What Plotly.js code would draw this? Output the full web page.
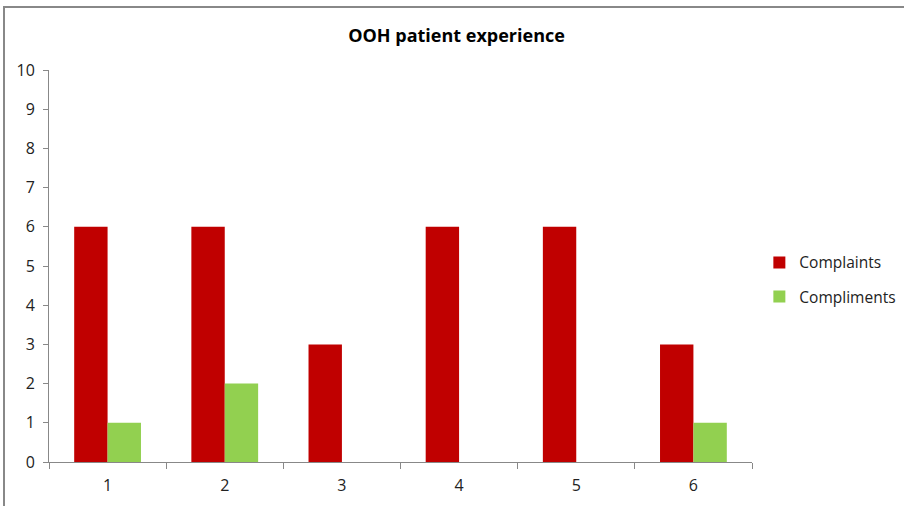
<!DOCTYPE html>
<html>
<head>
<meta charset="utf-8">
<script src="https://cdn.plot.ly/plotly-3.0.1.min.js"></script>
<style>
  html, body { margin: 0; padding: 0; background: #fff; overflow: hidden; }
  #chart { position: absolute; left: 0; top: 0; width: 904px; height: 506px; }
  #frame { position: absolute; left: 3px; top: 6px; width: 920px; height: 520px;
           border: 2px solid #888888; pointer-events: none; box-sizing: border-box; }
</style>
</head>
<body>
<div id="chart"></div>
<div id="frame"></div>
<script>
const categories = ["1", "2", "3", "4", "5", "6"];
const complaints = [6, 6, 3, 6, 6, 3];
const compliments = [1, 2, 0, 0, 0, 1];
const yTickValues = [0, 1, 2, 3, 4, 5, 6, 7, 8, 9, 10];

const fontFamily = "Open Sans, Noto Sans, Liberation Sans, sans-serif";

const traces = [
  { type: "bar", name: "Complaints", x: categories, y: complaints,
    marker: { color: "#C00000" }, legendgroup: "a" },
  { type: "bar", name: "Compliments", x: categories, y: compliments,
    marker: { color: "#92D050" }, legendgroup: "b" }
];

const layout = {
  width: 904, height: 506,
  margin: { l: 49, r: 152, t: 70, b: 44, autoexpand: false },
  paper_bgcolor: "#ffffff", plot_bgcolor: "#ffffff",
  font: { family: fontFamily, size: 16, color: "#222222" },
  title: { text: "<b>OOH patient experience</b>", x: 0.505, xref: "container",
           y: 0.93, yref: "container", yanchor: "middle",
           font: { family: fontFamily, size: 18, color: "#000000" } },
  barmode: "group", bargap: 0.43, bargroupgap: 0,
  showlegend: true,
  legend: { x: 0.84, xref: "container", xanchor: "left", y: 0.447, yref: "container", yanchor: "middle",
            font: { family: fontFamily, size: 15.5, color: "#222222" },
            tracegroupgap: 11, traceorder: "grouped", itemwidth: 30 },
  xaxis: { type: "category", showgrid: false, zeroline: false,
           showline: true, linecolor: "#888888", linewidth: 1,
           ticks: "outside", tickson: "boundaries", ticklen: 6, tickcolor: "#888888",
           ticklabelstandoff: 9,
           tickfont: { family: fontFamily, size: 16, color: "#222222" } },
  yaxis: { range: [0, 10], tickvals: yTickValues, showgrid: false, zeroline: false,
           showline: true, linecolor: "#888888", linewidth: 1,
           ticks: "outside", ticklen: 5, tickcolor: "#888888",
           ticklabelstandoff: 5,
           tickfont: { family: fontFamily, size: 16, color: "#222222" } }
};

Plotly.newPlot("chart", traces, layout, { displayModeBar: false, staticPlot: true });
</script>
</body>
</html>
